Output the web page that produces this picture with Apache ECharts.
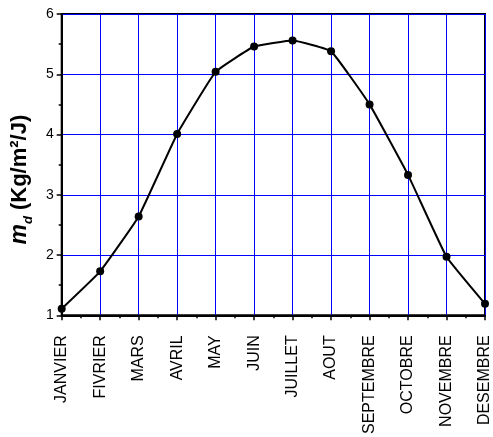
<!DOCTYPE html>
<html>
<head>
<meta charset="utf-8">
<script src="https://cdn.jsdelivr.net/npm/echarts@6/dist/echarts.min.js"></script>
<style>html,body{margin:0;padding:0;background:#fff}#c{width:493px;height:437px}</style>
</head>
<body>
<div id="c"></div>
<script>
const months = ['JANVIER','FIVRIER','MARS','AVRIL','MAY','JUIN','JUILLET','AOUT','SEPTEMBRE','OCTOBRE','NOVEMBRE','DESEMBRE'];
const md = [1.11, 1.73, 2.64, 4.01, 5.04, 5.46, 5.56, 5.38, 4.50, 3.33, 1.97, 1.19];
const yTicks = {min: 1, max: 6, interval: 1};

const chart = echarts.init(document.getElementById('c'));
chart.setOption({
  animation: false,
  grid: {left: 59, right: 5, top: 14, bottom: 119, show: true, borderColor: '#000', borderWidth: 2, backgroundColor: 'transparent'},
  xAxis: [{
    type: 'category', data: months, boundaryGap: false,
    axisLine: {lineStyle: {color: '#000', width: 2}},
    axisTick: {show: false},
    axisLabel: {rotate: 90, fontSize: 16, color: '#000', fontFamily: 'Liberation Sans, Arial', margin: 20, interval: 0},
    splitLine: {show: true, lineStyle: {color: '#0000ff', width: 1}}
  }, {
    type: 'value', min: 0, max: months.length - 1, interval: 1, position: 'bottom',
    axisLine: {show: false},
    axisTick: {show: true, length: 5, lineStyle: {color: '#000', width: 1.5}},
    minorTick: {show: true, splitNumber: 2, length: 3, lineStyle: {color: '#000', width: 1.5}},
    axisLabel: {show: false}, splitLine: {show: false}
  }],
  yAxis: {
    type: 'value', min: yTicks.min, max: yTicks.max, interval: yTicks.interval,
    axisLine: {show: true, lineStyle: {color: '#000', width: 2}},
    axisTick: {show: true, length: 5, lineStyle: {color: '#000', width: 1.5}},
    minorTick: {show: true, splitNumber: 2, length: 3, lineStyle: {color: '#000', width: 1.5}},
    axisLabel: {fontSize: 14, color: '#000', fontFamily: 'Liberation Sans, Arial', margin: 8},
    splitLine: {show: true, lineStyle: {color: '#0000ff', width: 1}},
    name: '{m|m}{d|d}{t| (Kg/m²/J)}',
    nameLocation: 'middle', nameGap: 30, nameRotate: 90,
    nameTextStyle: {
      padding: [0, 30, 0, 0],
      rich: {
        m: {fontSize: 23, fontWeight: 'bold', fontStyle: 'italic', color: '#000', fontFamily: 'Liberation Sans, Arial'},
        d: {fontSize: 13, fontWeight: 'bold', fontStyle: 'italic', color: '#000', fontFamily: 'Liberation Sans, Arial', verticalAlign: 'bottom', padding: [0,0,-4,0]},
        t: {fontSize: 22, fontWeight: 'bold', color: '#000', fontFamily: 'Liberation Sans, Arial'}
      }
    }
  },
  series: [{
    type: 'line', data: md, xAxisIndex: 0, smooth: 0.1,
    symbol: 'circle', symbolSize: 8,
    lineStyle: {color: '#000', width: 2},
    itemStyle: {color: '#000'},
    clip: false
  }]
});
</script>
</body>
</html>
